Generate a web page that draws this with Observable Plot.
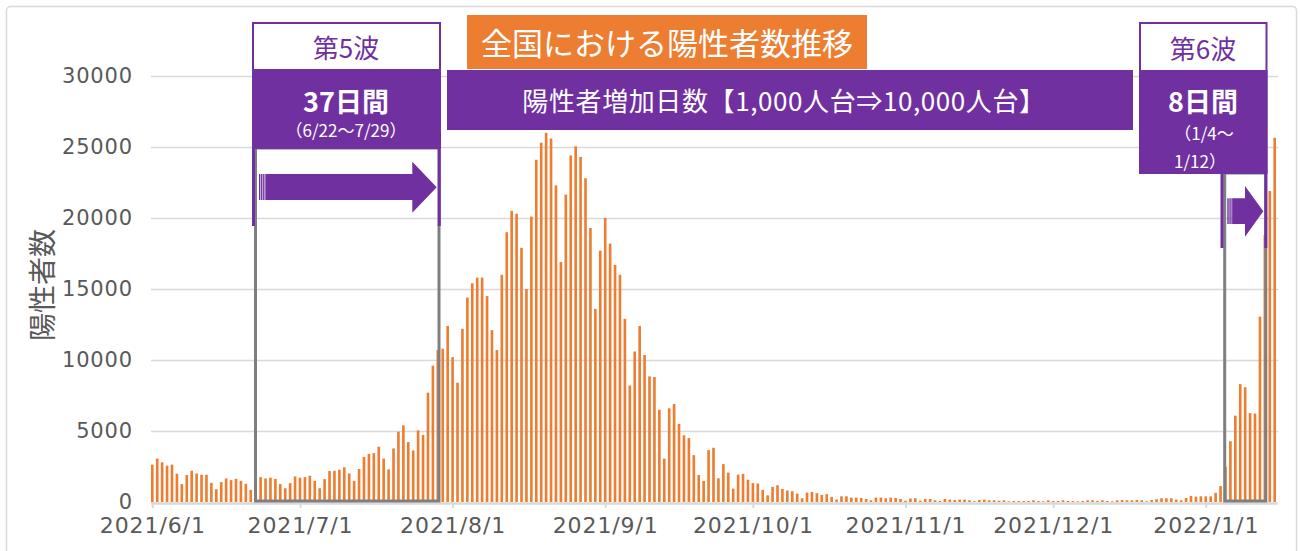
<!DOCTYPE html>
<html><head><meta charset="utf-8">
<script src="https://cdn.jsdelivr.net/npm/d3@7"></script>
<script src="https://cdn.jsdelivr.net/npm/@observablehq/plot@0.6"></script>
<style>
html,body{margin:0;padding:0;background:#fff;}
#chart{position:relative;width:1301px;height:551px;overflow:hidden;}
g[aria-label="x-axis tick label"] text{letter-spacing:0.9px;}
g[aria-label="y-axis tick label"] text{letter-spacing:0.8px;}
</style></head><body><div id="chart"></div>
<script>
// ---- data ----
const startDate = "2021-06-01";
const cases_2021_06 = [2630,3060,2800,2560,2630,1990,1260,1900,2200,2010,1920,1920,1350,900,1400,1660,1540,1630,1490,1280,850,1420,1750,1660,1710,1630,1260,970,1330,1800];
const cases_2021_07 = [1710,1750,1850,1490,970,1610,2180,2200,2270,2440,2010,1490,2320,3180,3390,3440,3890,3060,2300,3770,4950,5400,4220,3630,5050,4720,7700,9600,10700,10800,12400];
const cases_2021_08 = [10200,8400,12200,14400,15400,15800,15800,14500,12100,10700,16000,19000,20500,20300,17900,15000,20100,24100,25300,26000,25600,22300,16900,21650,24400,25050,24300,22800,19300,13600,17700];
const cases_2021_09 = [20000,18200,16700,16000,12900,8200,10600,12400,10350,8850,8800,6500,3050,6600,6900,5500,4700,4500,3300,1900,1480,3650,3820,1670,2670,2070,940,1930,1980,1570];
const cases_2021_10 = [1330,1300,850,470,1070,1180,920,810,760,590,260,660,710,620,500,550,360,170,400,400,310,310,280,210,120,310,310,260,310,280,210];
const cases_2021_11 = [90,240,260,90,210,210,120,70,210,170,140,170,170,120,50,140,170,120,120,90,120,50,70,70,70,70,120,70,50,120];
const cases_2021_12 = [70,70,120,70,70,50,70,120,120,70,120,70,50,120,140,120,120,140,120,50,140,190,260,260,260,170,120,280,430,380,400];
const cases_2022_01 = [400,400,640,1120,2470,4280,6080,8300,8080,6260,6230,13050,18800,21900,25650];
const endDate = "2022-01-15";
const xTickDates = ["2021-06-01","2021-07-01","2021-08-01","2021-09-01","2021-10-01","2021-11-01","2021-12-01","2022-01-01"];
const yTickValues = [0,5000,10000,15000,20000,25000,30000];
const yTitle = "陽性者数";
const chartTitle = "全国における陽性者数推移";
const mainLabel = "陽性者増加日数【1,000人台⇒10,000人台】";
const wave5Labels = ["第5波","37日間","（6/22～7/29）"];
const wave6Labels = ["第6波","8日間","（1/4～","1/12）"];

// ---- build table ----
const allValues = [].concat(cases_2021_06,cases_2021_07,cases_2021_08,cases_2021_09,cases_2021_10,cases_2021_11,cases_2021_12,cases_2022_01);
const start = new Date(startDate + "T00:00:00Z");
const data = allValues.map((v,i)=>({date:d3.utcDay.offset(start,i), value:v}));

const orange = "#ED7D31", purple = "#7030A0", greyBox = "#7f7f7f", gridC = "#d9d9d9", textC = "#595959";
const jp = "'Noto Sans CJK JP','Noto Sans CJK SC',sans-serif";

const chart = Plot.plot({
  width: 1301, height: 551,
  marginLeft: 152.3, marginRight: 26.3, marginTop: 76, marginBottom: 49,
  style: {fontFamily: "'DejaVu Sans',sans-serif", background: "transparent", overflow: "visible"},
  x: {type: "utc", domain: [start, new Date(endDate + "T00:00:00Z")]},
  y: {domain: [0, 30000]},
  marks: [
    Plot.ruleY(yTickValues.filter(d=>d>0), {stroke: gridC, strokeWidth: 1.4, insetLeft: -1.3, insetRight: -3.3}),
    Plot.ruleY([0], {stroke: gridC, strokeWidth: 2.3, dy: 1, insetLeft: -1.3, insetRight: -3.3}),
    Plot.rect(data, {
      x1: d => d3.utcHour.offset(d.date, -12),
      x2: d => d3.utcHour.offset(d.date, 12),
      y1: 0, y2: "value",
      fill: orange, insetLeft: 1.15, insetRight: 1.15
    }),
    Plot.axisX({
      ticks: xTickDates.map(s => new Date(s + "T00:00:00Z")),
      tickFormat: d3.utcFormat("%Y/%-m/%-d"),
      tickSize: 6, tickPadding: 9, stroke: gridC, strokeWidth: 2,
      fill: textC, fontSize: 22, label: null
    }),
    Plot.axisY({
      ticks: yTickValues, tickFormat: d => String(d),
      tickSize: 0, tickPadding: 20, fill: textC, fontSize: 21, label: null
    })
  ]
});
document.getElementById("chart").appendChild(chart);

// ---- annotation overlay (hand-placed shapes as in the original) ----
const svg = d3.select(chart);
const ov = svg.append("g").attr("class","overlay");

// outer frame
svg.insert("rect", ":first-child").attr("x",6.5).attr("y",6.5).attr("width",1290).attr("height",560)
  .attr("rx",4).attr("fill","none").attr("stroke",gridC).attr("stroke-width",1.5);

function greyRect(x0,x1,y0,y1){
  ov.append("rect").attr("x",x0).attr("y",y0).attr("width",x1-x0).attr("height",y1-y0)
    .attr("fill","none").attr("stroke",greyBox).attr("stroke-width",3);
}
function vline(x,y0,y1){
  ov.append("line").attr("x1",x).attr("x2",x).attr("y1",y0).attr("y2",y1)
    .attr("stroke",purple).attr("stroke-width",3);
}
function arrow(xs, xShaft, xHead, xTip, sy0, sy1, hy0, hy1){
  const yc = (hy0+hy1)/2;
  ov.append("polygon").attr("fill",purple).attr("points",
    [[xShaft,sy0],[xHead,sy0],[xHead,hy0],[xTip,yc],[xHead,hy1],[xHead,sy1],[xShaft,sy1]].map(p=>p.join(",")).join(" "));
  for (let i=0;i<3;i++){
    ov.append("rect").attr("x",xs+i*2.05).attr("y",sy0).attr("width",1.4).attr("height",sy1-sy0).attr("fill",purple);
  }
}
function txt(s,x,y,size,fill,weight,ls){
  const t = ov.append("text").attr("x",x).attr("y",y).attr("text-anchor","middle").attr("dominant-baseline","central")
    .attr("font-family",jp).attr("font-size",size).attr("font-weight",weight||400).attr("fill",fill).text(s);
  if (ls) t.attr("letter-spacing",ls);
}

// wave 5
greyRect(255.5,439,148,501);
vline(253.5,148,226); vline(439.3,148,226);
arrow(259,265.3,412.3,436.7,174,200,161.7,212.7);
ov.append("rect").attr("x",253).attr("y",23).attr("width",187).attr("height",125).attr("fill","#fff").attr("stroke",purple).attr("stroke-width",2);
ov.append("rect").attr("x",252).attr("y",69).attr("width",189).attr("height",80).attr("fill",purple);
txt(wave5Labels[0],346,46,26,purple);
txt(wave5Labels[1],346,100,27,"#fff",700);
txt(wave5Labels[2],346,129,17,"#fff");

// wave 6
greyRect(1224.7,1265.8,173,501);
vline(1222,173,248); vline(1265.8,173,248);
arrow(1227.3,1232.7,1245,1263.3,198.3,224,186,236.7);
ov.append("rect").attr("x",1140).attr("y",23).attr("width",126.5).attr("height",150).attr("fill","#fff").attr("stroke",purple).attr("stroke-width",2);
ov.append("rect").attr("x",1139).attr("y",70).attr("width",128.5).attr("height",103).attr("fill",purple);
txt(wave6Labels[0],1203,47,26,purple);
txt(wave6Labels[1],1203,100,27,"#fff",700);
txt(wave6Labels[2],1204,132.5,17,"#fff");
txt(wave6Labels[3],1200,160,17,"#fff");

// main label box
ov.append("rect").attr("x",447).attr("y",70).attr("width",686).attr("height",60).attr("fill",purple);
txt(mainLabel,784,99,26,"#fff",400,"0.6px");

// title box
ov.append("rect").attr("x",467).attr("y",15).attr("width",400).attr("height",54).attr("fill",orange);
txt(chartTitle,667,41,31,"#fff");

// y-axis title
ov.append("text").attr("transform","translate(41,285) rotate(-90)").attr("text-anchor","middle")
  .attr("dominant-baseline","central").attr("font-family",jp).attr("font-size",28).attr("fill",textC).text(yTitle);
</script></body></html>
